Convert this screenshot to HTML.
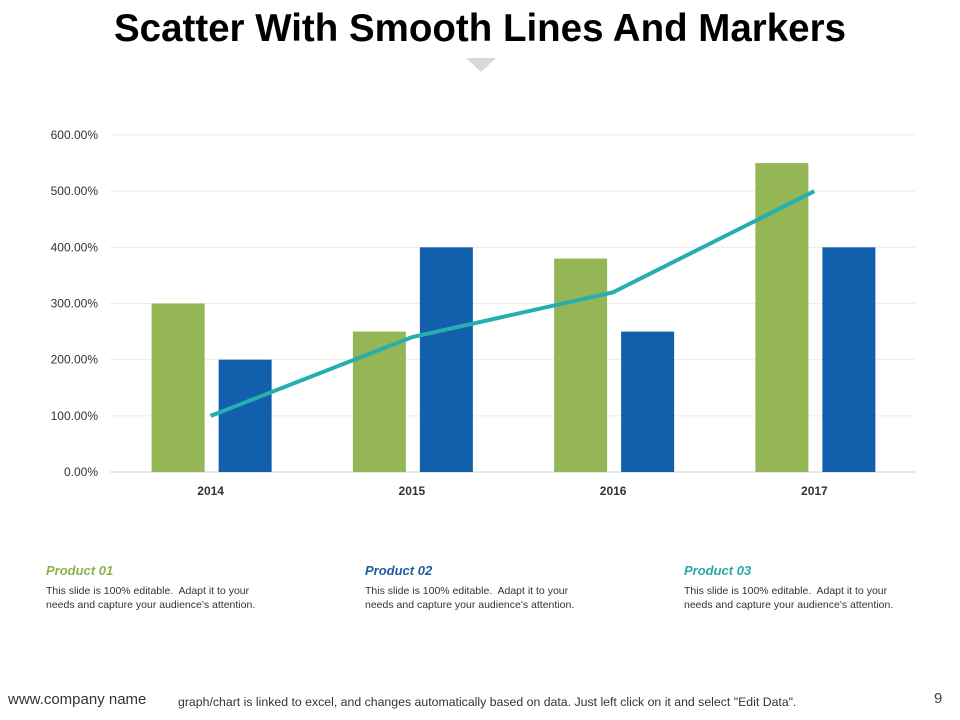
<!DOCTYPE html>
<html><head><meta charset="utf-8"><style>
body{margin:0;width:960px;height:720px;background:#fff;font-family:"Liberation Sans",sans-serif;position:relative;overflow:hidden}
.abs{position:absolute}
h1{position:absolute;left:0;width:960px;top:7px;margin:0;text-align:center;font-size:38.5px;font-weight:bold;color:#000}
.ph{font-style:italic;font-weight:bold;font-size:13px}
.pd{font-family:"Liberation Sans Narrow","Liberation Sans",sans-serif;font-size:10.5px;color:#333;line-height:14px}
</style></head><body>
<h1>Scatter With Smooth Lines And Markers</h1>
<svg class="abs" style="left:466px;top:58px" width="32" height="16"><polygon points="0,0 30,0 15,14" fill="#d9d9d9"/></svg>
<svg id="chart" class="abs" style="left:0;top:0" width="960" height="530"></svg>
<div class="abs ph" style="left:46px;top:563px;color:#8db04f">Product 01</div>
<div class="abs pd" style="left:46px;top:584px">This slide is 100% editable.&nbsp; Adapt it to your<br>needs and capture your audience's attention.</div>
<div class="abs ph" style="left:365px;top:563px;color:#1f5d99">Product 02</div>
<div class="abs pd" style="left:365px;top:584px">This slide is 100% editable.&nbsp; Adapt it to your<br>needs and capture your audience's attention.</div>
<div class="abs ph" style="left:684px;top:563px;color:#2aa8a8">Product 03</div>
<div class="abs pd" style="left:684px;top:584px">This slide is 100% editable.&nbsp; Adapt it to your<br>needs and capture your audience's attention.</div>
<div class="abs" style="left:8px;top:691px;font-size:15px;color:#333;font-family:'Liberation Sans Narrow','Liberation Sans',sans-serif">www.company name</div>
<div class="abs" style="left:178px;top:695px;font-size:12.3px;color:#333;font-family:'Liberation Sans Narrow','Liberation Sans',sans-serif">graph/chart is linked to excel, and changes automatically based on data. Just left click on it and select "Edit Data".</div>
<div class="abs" style="left:934px;top:690px;font-size:15px;color:#444">9</div>
<script>
const categories=["2014","2015","2016","2017"];
const seriesA=[300,250,380,550];
const seriesB=[200,400,250,400];
const lineVals=[100,240,320,500];
const yTicks=[0,100,200,300,400,500,600];
const svg=document.getElementById('chart');
const NS='http://www.w3.org/2000/svg';
const x0=110,x1=915,y0=472,y1=135,yMax=600;
const band=(x1-x0)/categories.length;
const y=v=>y0-(v/yMax)*(y0-y1);
const xc=i=>x0+band*(i+0.5);
function mk(t,a){const e=document.createElementNS(NS,t);for(const k in a)e.setAttribute(k,a[k]);svg.appendChild(e);return e;}
yTicks.forEach(v=>{
 const g=mk('line',{x1:x0,x2:x1,y1:y(v),y2:y(v),stroke:v===0?'#d0d0d0':'#ececec','stroke-width':1});
 
 
 const t=mk('text',{x:98,y:y(v)+4,'text-anchor':'end','font-size':12,fill:'#333','font-family':'Liberation Sans, sans-serif'});
 t.textContent=v.toFixed(2)+'%';
 
 
});
categories.forEach((c,i)=>{
 const a=mk('rect',{x:xc(i)-59,y:y(seriesA[i]),width:53,height:y0-y(seriesA[i]),fill:'#94b654'});
 
 
 const b=mk('rect',{x:xc(i)+8,y:y(seriesB[i]),width:53,height:y0-y(seriesB[i]),fill:'#125fac'});
 
 
 const t=mk('text',{x:xc(i),y:495,'text-anchor':'middle','font-size':12,'font-weight':'bold',fill:'#333','font-family':'Liberation Sans, sans-serif'});
 t.textContent=c;
 
 
});
const pl=mk('polyline',{points:lineVals.map((v,i)=>xc(i)+','+y(v)).join(' '),fill:'none',stroke:'#27aeb0','stroke-width':4,'stroke-linejoin':'round'});


</script>
</body></html>
